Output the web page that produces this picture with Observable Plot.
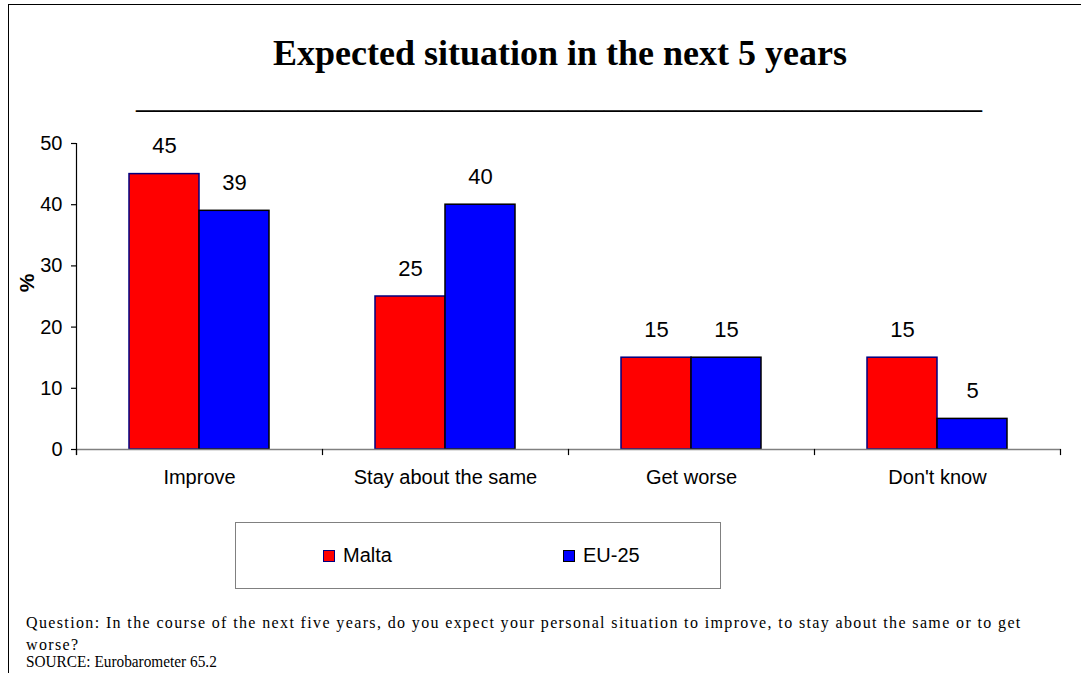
<!DOCTYPE html>
<html>
<head>
<meta charset="utf-8">
<script src="https://cdn.jsdelivr.net/npm/d3@7"></script>
<script src="https://cdn.jsdelivr.net/npm/@observablehq/plot@0.6"></script>
<style>
  html, body { margin: 0; padding: 0; background: #fff; overflow: hidden; }
  #page { position: relative; width: 1081px; height: 673px; overflow: hidden; background: #fff; }
  #border { position: absolute; left: 8px; top: 4px; width: 1200px; height: 800px; border-left: 1.5px solid #000; border-top: 1.5px solid #000; }
  #title { position: absolute; left: 0; top: 35px; width: 1120px; text-align: center; font: bold 36px "Liberation Serif", serif; line-height: 36px; color: #000; white-space: nowrap; }
  #rule { position: absolute; left: 0; top: 75px; width: 1118px; text-align: center; font: 36px "Liberation Serif", serif; line-height: 40px; color: #000; white-space: nowrap; }
  #chart { position: absolute; left: 0; top: 0; }
  #ylabel { position: absolute; left: 27px; top: 283px; transform: translate(-50%, -50%) rotate(-90deg); font: bold 21px "Liberation Sans", Arial, sans-serif; color: #000; }
  #legend { position: absolute; left: 235px; top: 522px; width: 484px; height: 65px; border: 1.5px solid #808080; box-sizing: content-box; }
  .item { position: absolute; top: 0; height: 65px; display: flex; align-items: center; font: 20px "Liberation Sans", Arial, sans-serif; color: #000; }
  .sw { width: 10px; height: 10px; border: 1.5px solid #000; margin-right: 8px; }
  #q { position: absolute; left: 26px; top: 612px; font: 16px "Liberation Serif", serif; letter-spacing: 1.37px; line-height: 22px; color: #000; white-space: nowrap; }
  #src { position: absolute; left: 26px; top: 653px; font: 17px "Liberation Serif", serif; line-height: 18px; color: #000; white-space: nowrap; transform: scaleX(0.9); transform-origin: 0 0; }
</style>
</head>
<body>
<div id="page">
  <div id="border"></div>
  <div id="title"></div>
  <div id="rule"></div>
  <div id="chart"></div>
  <div id="ylabel"></div>
  <div id="legend"></div>
  <div id="q"></div>
  <div id="src"></div>
</div>
<script>
// ---- data ----
const titleText = "Expected situation in the next 5 years";
const categories = ["Improve", "Stay about the same", "Get worse", "Don't know"];
const series = ["Malta", "EU-25"];
const maltaValues = [45, 25, 15, 15];
const eu25Values = [39, 40, 15, 5];
const yTicks = [0, 10, 20, 30, 40, 50];
const yLabel = "%";
const questionLine1 = "Question: In the course of the next five years, do you expect your personal situation to improve, to stay about the same or to get";
const questionLine2 = "worse?";
const sourceText = "SOURCE: Eurobarometer 65.2";

// ---- styles ----
const fills = ["#FF0000", "#0000FF"];
const strokes = ["#000080", "#000000"];

const valuesBySeries = [maltaValues, eu25Values];
const rows = [];
series.forEach((s, si) => categories.forEach((c, ci) => rows.push({category: c, series: s, value: valuesBySeries[si][ci]})));

const W = 1081, H = 500, mT = 143, mB = 51, mL = 75, mR = 21;
const plotH = H - mT - mB;
const tick = 5;

const plot = Plot.plot({
  width: W, height: H,
  marginTop: mT, marginBottom: mB, marginLeft: mL, marginRight: mR,
  style: {fontFamily: "'Liberation Sans', Arial, sans-serif", color: "#000", background: "transparent", overflow: "visible"},
  fx: {domain: categories, padding: 0, axis: null},
  x: {domain: series, paddingInner: 0, paddingOuter: 0.745, axis: null},
  y: {domain: [0, 50], axis: null},
  marks: [
    ...series.map((s, i) => Plot.barY(rows.filter(d => d.series === s), {
      fx: "category", x: "series", y: "value",
      fill: fills[i], stroke: strokes[i], strokeWidth: 1.5
    })),
    Plot.ruleY([0], {stroke: "#808080", strokeWidth: 1.5}),
    Plot.frame({anchor: "left", facetAnchor: "left", stroke: "#000", strokeWidth: 1.2, insetBottom: -tick}),
    Plot.frame({anchor: "left", stroke: "#000", strokeWidth: 1.2, insetTop: plotH, insetBottom: -tick}),
    Plot.frame({anchor: "right", facetAnchor: "right", stroke: "#000", strokeWidth: 1.2, insetTop: plotH, insetBottom: -tick}),
    Plot.text(rows, {fx: "category", x: "series", y: "value", text: d => String(d.value),
      dy: -21, lineAnchor: "bottom", fontSize: 22, fill: "#000"}),
    Plot.axisY({ticks: yTicks, tickSize: tick, tickPadding: 9, fontSize: 20, label: null, stroke: "#000", strokeWidth: 1.2}),
    Plot.axisFx({domain: categories, anchor: "bottom", tickSize: 0, tickPadding: 20, fontSize: 20, label: null})
  ]
});
document.getElementById("chart").appendChild(plot);

document.getElementById("title").textContent = titleText;
document.getElementById("rule").textContent = "_".repeat(47);
document.getElementById("ylabel").textContent = yLabel;

const legend = document.getElementById("legend");
const legendX = [87, 327];
series.forEach((s, i) => {
  const item = document.createElement("div");
  item.className = "item";
  item.style.left = legendX[i] + "px";
  const sw = document.createElement("span");
  sw.className = "sw";
  sw.style.background = fills[i];
  sw.style.borderColor = strokes[i];
  item.appendChild(sw);
  const t = document.createElement("span");
  t.textContent = s;
  item.appendChild(t);
  legend.appendChild(item);
});

const q = document.getElementById("q");
q.appendChild(document.createTextNode(questionLine1));
q.appendChild(document.createElement("br"));
q.appendChild(document.createTextNode(questionLine2));
document.getElementById("src").textContent = sourceText;
</script>
</body>
</html>
